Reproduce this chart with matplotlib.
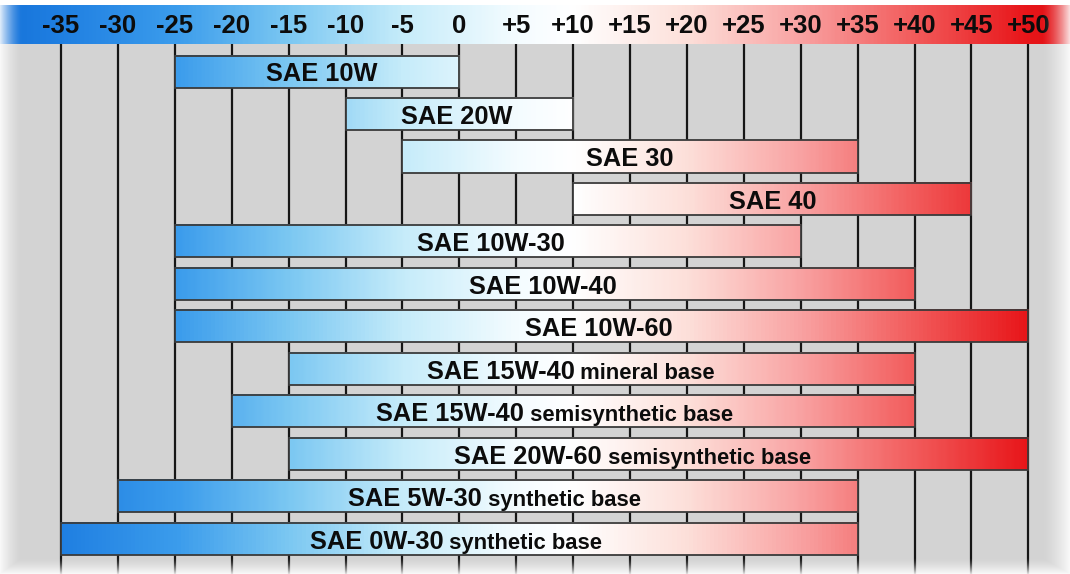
"""
SAE oil viscosity vs ambient temperature chart.
"""

import numpy as np
import matplotlib
matplotlib.use("Agg")
import matplotlib.pyplot as plt
from matplotlib.colors import LinearSegmentedColormap, Normalize
from matplotlib.offsetbox import TextArea, HPacker, AnnotationBbox

# ── Data ───────────────────────────────────────────────────────────────────
temps = [-35, -30, -25, -20, -15, -10, -5, 0, 5, 10, 15, 20, 25, 30, 35, 40, 45, 50]
tick_labels = ["-35", "-30", "-25", "-20", "-15", "-10", "-5", "0", "+5", "+10",
               "+15", "+20", "+25", "+30", "+35", "+40", "+45", "+50"]

grades = ["SAE 10W", "SAE 20W", "SAE 30", "SAE 40", "SAE 10W-30", "SAE 10W-40",
          "SAE 10W-60", "SAE 15W-40", "SAE 15W-40", "SAE 20W-60", "SAE 5W-30",
          "SAE 0W-30"]
bases = ["", "", "", "", "", "", "", "mineral base", "semisynthetic base",
         "semisynthetic base", "synthetic base", "synthetic base"]
t_low = [-25, -10, -5, 10, -25, -25, -25, -15, -20, -15, -30, -35]
t_high = [0, 10, 35, 45, 30, 40, 50, 40, 40, 50, 35, 35]

# label nudge from the bar centre (degrees), as in the original artwork
label_shift = [0.4, -0.2, 0.0, 0.0, 0.3, -0.2, -0.2, -2.7, -1.6, -2.3, 0.6, -0.3]

# ── Style ──────────────────────────────────────────────────────────────────
FONT = ["Liberation Sans", "DejaVu Sans"]
TEXT = "#0c0c0c"
PANEL = "#d3d3d3"
LINE = "#161616"
EDGE = "#3a3a3a"

X_LO, X_HI = -40.36, 53.66
cmap_nodes = [(-40.4, "#1673da"), (-35, "#2080e2"), (-25, "#3b9cec"), (-15, "#7cc8f2"),
              (-5, "#c6ecfa"), (5, "#f4fcff"), (10, "#ffffff"), (20, "#fde0da"),
              (30, "#f9a3a3"), (40, "#f25c5c"), (50, "#e8161a"), (53.7, "#e01014")]
temp_cmap = LinearSegmentedColormap.from_list(
    "temp", [((t - X_LO) / (X_HI - X_LO), c) for t, c in
             [(max(min(t, X_HI), X_LO), c) for t, c in cmap_nodes]])
norm = Normalize(X_LO, X_HI)

W, H = 1070, 574
fig = plt.figure(figsize=(W / 100, H / 100), dpi=100, facecolor="white")

# ── Header scale ───────────────────────────────────────────────────────────
hdr = fig.add_axes([0, 1 - 44 / H, 1, 39 / H])
hdr.imshow(np.linspace(X_LO, X_HI, 600)[None, :], cmap=temp_cmap, norm=norm,
           extent=(X_LO, X_HI, 0, 1), aspect="auto", interpolation="bilinear")
for t, lab in zip(temps, tick_labels):
    hdr.text(t, 0.28, lab, ha="center", va="baseline", fontsize=18.5,
             fontweight="bold", color=TEXT, family=FONT)
hdr.set_xlim(X_LO, X_HI)
hdr.set_ylim(0, 1)
hdr.axis("off")

# ── Bars ───────────────────────────────────────────────────────────────────
ax = fig.add_axes([0, 0, 1, 1 - 44 / H])
ax.set_facecolor(PANEL)
rows = np.arange(len(grades))
y_top, y_bot = -0.649, 11.83
bar_h = 0.755

ax.vlines(temps, y_top, y_bot, colors=LINE, linewidth=1.6, zorder=1)

for i, (lo, hi) in enumerate(zip(t_low, t_high)):
    ax.imshow(np.linspace(lo, hi, 256)[None, :], cmap=temp_cmap, norm=norm,
              extent=(lo, hi, i + bar_h / 2, i - bar_h / 2), aspect="auto",
              interpolation="bilinear", zorder=2)

ax.barh(rows, np.array(t_high) - np.array(t_low), left=t_low, height=bar_h,
        fill=False, edgecolor=EDGE, linewidth=1.3, zorder=3)

for i, (g, b) in enumerate(zip(grades, bases)):
    parts = [TextArea(g, textprops=dict(fontsize=18.3, fontweight="bold",
                                        color=TEXT, family=FONT))]
    if b:
        parts.append(TextArea(" " + b, textprops=dict(fontsize=15.8, fontweight="bold",
                                                      color=TEXT, family=FONT)))
    box = HPacker(children=parts, align="baseline", pad=0, sep=0)
    cx = (t_low[i] + t_high[i]) / 2 + label_shift[i]
    ab = AnnotationBbox(box, (cx, i + 0.35), box_alignment=(0.5, 0),
                        frameon=False, pad=0, zorder=4)
    ax.add_artist(ab)

ax.set_xlim(X_LO, X_HI)
ax.set_ylim(y_bot, y_top)
ax.axis("off")
ax.add_patch(plt.Rectangle((X_LO, y_bot), X_HI - X_LO, y_top - y_bot,
                           facecolor=PANEL, edgecolor="none", zorder=0))

# ── Soft white fade at the picture edges ───────────────────────────────────
fade = fig.add_axes([0, 0, 1, 1], zorder=10)
xx = np.arange(W)[None, :]
yy = np.arange(H)[:, None]
alpha = np.maximum.reduce([
    np.clip(1 - xx / 22, 0, 1) ** 1.5 * np.ones_like(yy),
    np.clip(1 - (W - 1 - xx) / 28, 0, 1) ** 1.5 * np.ones_like(yy),
    np.clip(1 - (H - 1 - yy) / 16, 0, 1) ** 1.5 * np.ones_like(xx),
])
rgba = np.ones((H, W, 4))
rgba[..., 3] = alpha * 0.85
fade.imshow(rgba, aspect="auto", interpolation="bilinear")
fade.axis("off")

plt.savefig("out.png", dpi=100, facecolor="white")
